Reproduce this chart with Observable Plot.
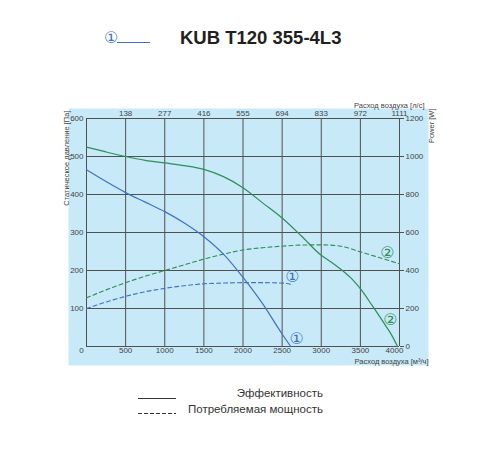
<!DOCTYPE html>
<html>
<head>
<meta charset="utf-8">
<script src="https://cdn.jsdelivr.net/npm/d3@7"></script>
<script src="https://cdn.jsdelivr.net/npm/@observablehq/plot@0.6"></script>
<style>
  html, body { margin: 0; padding: 0; background: #fff; width: 500px; height: 450px; overflow: hidden; }
  body { position: relative; font-family: "Liberation Sans", Arial, sans-serif; }
  #title { position: absolute; left: 180px; top: 28px; font-size: 18.5px; font-weight: bold; color: #231f20; line-height: 20px; white-space: nowrap; }
  #mark1 { position: absolute; left: 104px; top: 29px; font-family: "DejaVu Sans", sans-serif; font-size: 16px; color: #3f72c6; line-height: 18px; }
  #mark1line { position: absolute; left: 117px; top: 42px; width: 33px; height: 1px; background: #3f72c6; }
  #chart { position: absolute; left: 0; top: 90px; }
  .lg { position: absolute; font-size: 11.5px; color: #333; white-space: nowrap; line-height: 14px; }
  .lgline { position: absolute; left: 138px; width: 38px; height: 1px; }
</style>
</head>
<body>
<div id="mark1">①</div><div id="mark1line"></div>
<div id="title"></div>
<div id="chart"></div>
<div class="lgline" style="top:398px;background:#333;"></div>
<div class="lgline" style="top:413px;background:repeating-linear-gradient(to right,#333 0 4px,transparent 4px 6px);"></div>
<div class="lg" id="lg1" style="right:177px;top:386px;"></div>
<div class="lg" id="lg2" style="right:177px;top:402px;"></div>
<script>
const titleText = "KUB T120 355-4L3";
const legendSolid = "Эффективность";
const legendDashed = "Потребляемая мощность";
const yLabel = "Статическое давление [Па]";
const yRightLabel = "Power [W]";
const xLabel = "Расход воздуха [м³/ч]";
const xTopLabel = "Расход воздуха [л/с]";

const flowTicks = [500, 1000, 1500, 2000, 2500, 3000, 3500, 4000];
const topLabels = ["138", "277", "416", "555", "694", "833", "972", "1111"];
const pressureTicks = [100, 200, 300, 400, 500, 600];
const powerTicks = [0, 200, 400, 600, 800, 1000, 1200];

// Curve 1 (blue): static pressure [Pa]
const blueQ = [0, 250, 500, 750, 1000, 1250, 1500, 1750, 2000, 2250, 2500, 2610];
const blueP = [465, 434, 405, 380, 355, 325, 289, 243, 182, 113, 33, 0];
// Curve 1 (blue): power [W]
const blueWQ = [0, 250, 500, 750, 1000, 1250, 1500, 1750, 2000, 2250, 2500, 2630];
const blueW = [200, 234, 264, 288, 306, 320, 330, 334, 336, 336, 334, 326];
// Curve 2 (green): static pressure [Pa]
const greenQ = [0, 250, 500, 750, 1000, 1250, 1500, 1750, 2000, 2250, 2500, 2750, 3000, 3130, 3270, 3400, 3500, 3650, 3800, 3900, 3975];
const greenP = [525, 512, 500, 490, 483, 476, 466, 447, 418, 378, 338, 290, 240, 222, 200, 176, 152, 108, 62, 30, 0];
// Curve 2 (green): power [W]
const greenWQ = [0, 250, 500, 750, 1000, 1250, 1500, 1750, 2000, 2250, 2500, 2750, 3000, 3250, 3500, 3750, 4000];
const greenW = [256, 298, 336, 370, 400, 430, 460, 486, 508, 520, 528, 534, 535, 528, 498, 467, 435];

const blue = "#3f72c6";
const green = "#2c8f55";
const gridColor = "#505050";
const tickColor = "#444";

document.getElementById("title").textContent = titleText;
document.getElementById("lg1").textContent = legendSolid;
document.getElementById("lg2").textContent = legendDashed;

const toRows = (qs, vs) => qs.map((q, i) => ({q, v: vs[i]}));
const bP = toRows(blueQ, blueP);
const bW = toRows(blueWQ, blueW);
const gP = toRows(greenQ, greenP);
const gW = toRows(greenWQ, greenW);

const one = [0];
const fs = 8;
const mk = 16;
const innerTicks = flowTicks.slice(0, -1);
const lastTick = flowTicks.slice(-1);

const chart = Plot.plot({
  width: 500,
  height: 280,
  marginLeft: 86,
  marginRight: 101,
  marginTop: 28,
  marginBottom: 24,
  style: {fontFamily: "'Liberation Sans', Arial, sans-serif", fontSize: "8px", background: "transparent", overflow: "visible"},
  x: {domain: [0, 4000]},
  y: {domain: [0, 600]},
  marks: [
    Plot.frame({fill: "#c8e9f8", stroke: null, insetLeft: -18, insetRight: -29, insetTop: -10, insetBottom: -19}),
    Plot.gridX([0, ...flowTicks], {stroke: gridColor, strokeOpacity: 1, strokeWidth: 1}),
    Plot.gridY([0, ...pressureTicks], {stroke: gridColor, strokeOpacity: 1, strokeWidth: 1}),
    Plot.axisY({ticks: pressureTicks, tickSize: 0, tickPadding: 3, label: null, color: tickColor, fontSize: fs}),
    Plot.axisY({anchor: "right", ticks: powerTicks.map(w => w / 2), tickFormat: d => String(d * 2), tickSize: 4, tickPadding: 2, label: null, color: tickColor, stroke: gridColor, fontSize: fs}),
    Plot.axisX({ticks: innerTicks, tickFormat: d => String(d), tickSize: 0, tickPadding: 1, label: null, color: tickColor, fontSize: fs}),
    Plot.axisX({ticks: lastTick, tickFormat: d => String(d), tickSize: 0, tickPadding: 1, dx: -5, label: null, color: tickColor, fontSize: fs}),
    Plot.axisX({ticks: [0], tickFormat: d => String(d), tickSize: 0, tickPadding: 1, dx: -5, label: null, color: tickColor, fontSize: fs}),
    Plot.axisX({anchor: "top", ticks: flowTicks, tickFormat: (d, i) => topLabels[i], tickSize: 0, tickPadding: 3, label: null, color: tickColor, fontSize: fs}),
    Plot.text(one, {frameAnchor: "top-left", text: () => yLabel, rotate: -90, textAnchor: "end", dx: -23, dy: -8, fontSize: 7.5, fill: tickColor}),
    Plot.text(one, {frameAnchor: "top-right", text: () => yRightLabel, rotate: -90, textAnchor: "end", dx: 29, dy: -10, fontSize: 7.5, fill: tickColor}),
    Plot.text(one, {frameAnchor: "top-right", text: () => xTopLabel, textAnchor: "end", dx: 25, dy: -16, fontSize: 7.5, fill: tickColor}),
    Plot.text(one, {frameAnchor: "bottom-right", text: () => xLabel, textAnchor: "end", dx: 29, dy: 17, fontSize: 7.5, fill: tickColor}),
    Plot.line(gW, {x: "q", y: d => d.v / 2, stroke: green, strokeWidth: 1.1, strokeDasharray: "4,3", curve: "monotone-x"}),
    Plot.line(bW, {x: "q", y: d => d.v / 2, stroke: blue, strokeWidth: 1.1, strokeDasharray: "4,3", curve: "monotone-x"}),
    Plot.line(gP, {x: "q", y: "v", stroke: green, strokeWidth: 1.2, curve: "monotone-x"}),
    Plot.line(bP, {x: "q", y: "v", stroke: blue, strokeWidth: 1.2, curve: "monotone-x"}),
    Plot.text(bW, Plot.selectLast({x: "q", y: d => d.v / 2, text: () => "①", dx: 0, dy: -8, fill: blue, fontSize: mk, fontFamily: "DejaVu Sans"})),
    Plot.text(bP, Plot.selectLast({x: "q", y: "v", text: () => "①", dx: 6, dy: -8, fill: blue, fontSize: mk, fontFamily: "DejaVu Sans"})),
    Plot.text(gW, Plot.selectLast({x: "q", y: d => d.v / 2, text: () => "②", dx: -12, dy: -11, fill: green, fontSize: mk, fontFamily: "DejaVu Sans"})),
    Plot.text(gP, Plot.selectLast({x: "q", y: "v", text: () => "②", dx: -7, dy: -27, fill: green, fontSize: mk, fontFamily: "DejaVu Sans"}))
  ]
});
document.getElementById("chart").appendChild(chart);
</script>
</body>
</html>
